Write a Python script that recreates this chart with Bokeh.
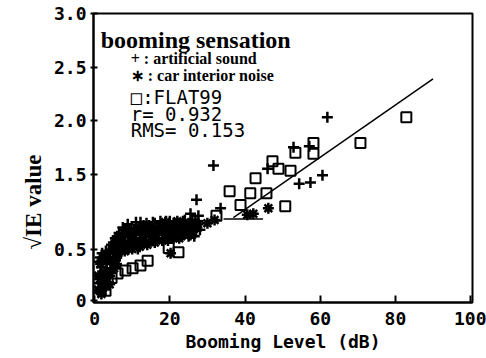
from bokeh.plotting import figure
from bokeh.models import FixedTicker, Label, Range1d, Title
from bokeh.embed import file_html
from bokeh.resources import INLINE

# ---- data ----
# artificial sound (+)
art_x = [1.2, 1.5, 1.8, 2.0, 2.5, 3.0, 3.2, 3.8, 4.2, 4.5, 5.0, 5.5, 6.0, 6.5, 7.0, 7.5,
         8.0, 8.8, 9.5, 10.2, 11.0, 11.5, 12.2, 13.0, 13.8, 14.5, 15.5, 16.2, 17.0, 18.0,
         19.0, 20.0, 21.0, 22.0, 23.5, 24.5, 26.0, 27.0,
         1.0, 1.0, 2.0, 3.0, 4.0, 5.0, 6.0, 7.0, 8.0, 9.0, 10.0, 11.0, 12.0, 13.0, 14.0,
         15.0, 16.0, 17.0, 18.0, 19.0, 20.0, 21.0, 22.0, 23.0, 24.0, 25.0, 26.0, 27.0, 28.0,
         1.5, 2.5, 3.5, 4.5, 5.5, 6.5, 7.5, 8.5, 9.5, 10.5, 11.5, 12.5, 13.5, 14.5,
         15.5, 16.5, 17.5, 18.5, 19.5, 20.5, 21.5, 22.5, 23.5, 24.5, 25.5, 26.5, 27.5,
         31.6, 27.1, 25.5, 27.6, 33.5, 46.0, 61.9, 54.4, 57.4, 60.6, 52.9, 57.1]
art_y = [0.48, 0.56, 0.63, 0.70, 0.74, 0.52, 0.66, 0.78, 0.60, 0.84, 0.72, 0.90, 0.80, 0.95, 0.76, 1.00,
         0.86, 1.03, 0.92, 0.82, 1.05, 0.97, 1.05, 0.88, 1.04, 0.95, 1.05, 0.90, 1.02, 0.96,
         1.06, 0.92, 1.04, 0.98, 1.06, 0.95, 1.02, 0.97,
         0.40, 0.68, 0.76, 0.78, 0.72, 0.86, 0.92, 0.82, 0.99, 0.86, 0.90, 0.93, 0.96, 1.02, 0.98,
         0.92, 1.04, 0.90, 1.02, 0.93, 1.06, 0.98, 0.93, 1.00, 1.07, 0.92, 1.07, 1.02, 0.98,
         0.72, 0.50, 0.58, 0.66, 0.70, 0.80, 0.86, 0.84, 0.99, 0.86, 0.80, 0.90, 0.86, 1.02,
         0.88, 0.96, 1.06, 0.96, 0.88, 1.02, 0.94, 1.02, 0.96, 1.02, 0.98, 0.92, 1.06,
         1.58, 1.26, 1.13, 1.11, 1.18, 1.55, 2.03, 1.41, 1.42, 1.49, 1.75, 1.76]

# car interior noise (*)
car_x = [1.0, 1.4, 1.6, 2.2, 2.6, 3.5, 4.0, 4.8, 5.8, 6.8, 8.2, 9.0, 10.5, 12.0, 13.5,
         15.0, 16.8, 18.5, 20.5, 22.5, 24.0, 25.5, 27.5,
         1.0, 2.0, 3.0, 4.0, 5.0, 6.0, 7.0, 8.0, 9.0, 10.0, 11.0, 12.0, 14.0, 15.0, 16.0,
         17.0, 18.0, 19.0, 20.0, 21.0, 22.0, 23.0, 24.0, 25.0, 26.0,
         1.8, 2.8, 5.2, 6.2, 7.8, 9.8, 11.8, 13.2, 16.2, 18.8, 21.8, 23.8, 26.8,
         30.0, 46.2, 20.2, 40.6, 42.2, 31.9]
car_y = [0.42, 0.52, 0.66, 0.45, 0.58, 0.72, 0.55, 0.80, 0.66, 0.88, 0.95, 0.80, 0.98, 0.86, 0.96,
         0.88, 0.97, 0.90, 1.00, 0.90, 1.03, 0.93, 1.03,
         0.55, 0.42, 0.45, 0.47, 0.78, 0.74, 0.90, 0.78, 0.96, 0.80, 0.85, 0.82, 0.84, 1.00, 0.86,
         0.98, 0.88, 1.00, 0.96, 0.90, 1.06, 0.92, 0.98, 1.04, 0.96,
         0.38, 0.70, 0.62, 0.88, 0.95, 0.94, 1.00, 0.98, 0.94, 1.05, 1.00, 0.94, 1.05,
         1.04, 1.18, 0.76, 1.12, 1.13, 1.07]

# FLAT99 (squares)
flat_x = [2.9, 4.5, 6.1, 8.2, 10.1, 12.2, 14.1, 19.7, 22.3, 9.6, 14.9, 17.0, 25.5,
          32.4, 35.9, 38.8, 41.4, 42.8, 45.7, 47.3, 48.9, 52.1, 53.4, 58.2, 58.2,
          50.7, 70.7, 82.9]
flat_y = [0.41, 0.53, 0.57, 0.60, 0.62, 0.645, 0.69, 0.81, 0.77, 0.98, 0.91, 0.95, 0.95,
          1.11, 1.34, 1.21, 1.32, 1.46, 1.32, 1.62, 1.55, 1.53, 1.70, 1.69, 1.79,
          1.20, 1.79, 2.03]

# regression line and flat segment
reg_x = [36.9, 90.0]
reg_y = [1.094, 2.39]
flat_seg_x = [34.3, 44.8]
flat_seg_y = [1.08, 1.08]

x_ticks = [0, 20, 40, 60, 80, 100]
y_ticks = [0.32, 0.794, 1.5, 2.0, 2.5, 3.0]
y_tick_labels = ["0", "0.5", "1.5", "2.0", "2.5", "3.0"]

MONO = "DejaVu Sans Mono"
SERIF = "Liberation Serif"

p = figure(width=486, height=358, output_backend="svg", toolbar_location=None,
           x_range=Range1d(-0.3, 100.5), y_range=Range1d(0.30, 3.0),
           min_border_left=93, min_border_right=14, min_border_top=13, min_border_bottom=56)
p.background_fill_color = "white"
p.border_fill_color = "white"
p.xgrid.visible = False
p.ygrid.visible = False
p.outline_line_color = "black"
p.outline_line_width = 2

# axes
p.xaxis.ticker = FixedTicker(ticks=x_ticks)
p.yaxis.ticker = FixedTicker(ticks=y_ticks)
p.yaxis.major_label_overrides = {t: l for t, l in zip(y_ticks, y_tick_labels)}
for ax in (p.xaxis[0], p.yaxis[0]):
    ax.axis_line_width = 2
    ax.axis_line_color = "black"
    ax.major_tick_line_width = 2
    ax.minor_tick_line_color = None
    ax.major_label_text_font = MONO
    ax.major_label_text_font_style = "bold"
    ax.major_label_text_font_size = "18px"
    ax.major_label_text_color = "black"
p.xaxis.major_tick_in = 7
p.xaxis.major_tick_out = 0
p.xaxis.major_label_standoff = 9
p.yaxis.major_tick_in = 4
p.yaxis.major_tick_out = 3
p.yaxis.major_label_standoff = 4
p.xaxis.axis_label = "Booming Level (dB)"
p.xaxis.axis_label_text_font = MONO
p.xaxis.axis_label_text_font_size = "18px"
p.xaxis.axis_label_text_font_style = "bold"
p.xaxis.axis_label_text_color = "black"
p.xaxis.axis_label_standoff = 3

# y axis title (placed lower than the frame centre, as in the original)
p.add_layout(Title(text="\u221aIE value", align="left", offset=53, standoff=9,
                   text_font=SERIF, text_font_size="23px", text_font_style="bold",
                   text_color="black"), "left")

# data
p.scatter(art_x, art_y, marker="cross", size=11, line_color="black", line_width=2.5)
p.scatter(car_x, car_y, marker="asterisk", size=11, line_color="black", line_width=2.5)
p.scatter(flat_x, flat_y, marker="square", size=10, fill_color=None,
          line_color="black", line_width=2)
p.line(reg_x, reg_y, line_color="black", line_width=1.5)
p.line(flat_seg_x, flat_seg_y, line_color="black", line_width=1.5)

# texts
def add_label(x, y, text, font, size, style="normal", baseline="middle", align="left"):
    p.add_layout(Label(x=x, y=y, text=text, text_font=font, text_font_size=size,
                       text_font_style=style, text_baseline=baseline, text_align=align,
                       text_color="black"))

add_label(1.6, 2.757, "booming sensation", SERIF, "24px", "bold", baseline="alphabetic")
add_label(9.6, 2.58, "+ : artificial sound", SERIF, "16px", "bold")
add_label(9.6, 2.42, "\u2217 : car interior noise", SERIF, "16px", "bold")
add_label(9.6, 2.224, "\u25a1:FLAT99", MONO, "19px")
add_label(9.6, 2.065, "r= 0.932", MONO, "19px")
add_label(9.6, 1.916, "RMS= 0.153", MONO, "19px")

open("out.html", "w").write(file_html(p, INLINE))
